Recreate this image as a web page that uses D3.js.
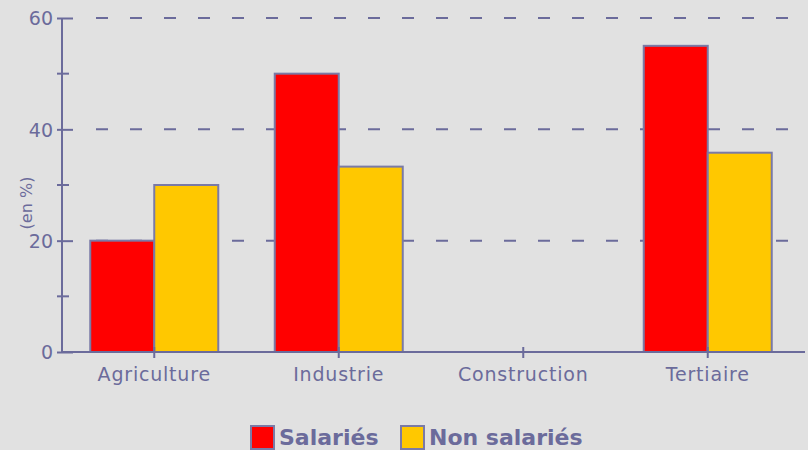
<!DOCTYPE html>
<html><head><meta charset="utf-8">
<script src="https://cdn.jsdelivr.net/npm/d3@7"></script>
<style>
html,body{margin:0;padding:0;background:#e1e1e1;}
svg{display:block;}
text{font-family:"DejaVu Sans",sans-serif;fill:#6b6b9b;}
</style></head><body>
<svg id="c" width="808" height="450"></svg>
<script>
const categories = ["Agriculture","Industrie","Construction","Tertiaire"];
const seriesNames = ["Salariés","Non salariés"];
const salaries = [20, 50, 0, 55];
const nonSalaries = [30, 33.3, 0, 35.8];
const yTicks = [0, 20, 40, 60];
const yMinorTicks = [10, 30, 50];
const colors = ["#ff0000", "#ffc800"];
const axisColor = "#6b6b9b";

(function(){
const svg = d3.select("#c");
const mLeft = 62, mRight = 800, mTop = 18, mBottom = 352;

const x = d3.scaleBand().domain(categories).range([mLeft, mRight]).paddingInner(0).paddingOuter(0);
const bw = 64;
const xs = d3.scaleBand().domain(seriesNames).range([0, bw*2]);
const y = d3.scaleLinear().domain([0, 60]).range([mBottom, mTop]);

// grid lines
svg.append("g").selectAll("line").data(yTicks.filter(d=>d>0)).join("line")
  .attr("x1", mLeft+34).attr("x2", 808)
  .attr("y1", d=>y(d)).attr("y2", d=>y(d))
  .attr("stroke", axisColor).attr("stroke-width", 2)
  .attr("stroke-dasharray", "12 22");

// bars
const data = categories.map((c,i)=>({c, vals:[salaries[i], nonSalaries[i]]}));
const g = svg.append("g");
data.forEach(d=>{
  d.vals.forEach((v,j)=>{
    if (v <= 0) return;
    const x0 = x(d.c) + x.bandwidth()/2 - bw + xs(seriesNames[j]);
    g.append("rect")
      .attr("x", x0).attr("y", y(v))
      .attr("width", xs.bandwidth()).attr("height", y(0)-y(v))
      .attr("fill", colors[j]).attr("stroke", "#7a7aa6").attr("stroke-width", 2);
  });
});

// y axis
const yAxis = d3.axisLeft(y).tickValues(yTicks).tickSize(16).tickFormat(d3.format("d"));
const ya = svg.append("g").attr("transform", `translate(${mLeft},0)`).call(yAxis);
ya.selectAll("line").attr("stroke", axisColor).attr("stroke-width", 2).attr("transform","translate(11,0)");
ya.select(".domain").remove();
ya.selectAll("text").attr("x", -9).attr("dy", "0.36em").style("font-size","19px").attr("fill", axisColor);
svg.append("line").attr("x1", mLeft).attr("x2", mLeft).attr("y1", mTop).attr("y2", mBottom)
  .attr("stroke", axisColor).attr("stroke-width", 2);
svg.append("g").selectAll("line").data(yMinorTicks).join("line")
  .attr("x1", mLeft-5).attr("x2", mLeft+7).attr("y1", d=>y(d)).attr("y2", d=>y(d))
  .attr("stroke", axisColor).attr("stroke-width", 2);

// x axis
const xAxis = d3.axisBottom(x).tickSize(6).tickSizeOuter(0);
const xa = svg.append("g").attr("transform", `translate(0,${mBottom})`).call(xAxis);
xa.select(".domain").remove();
xa.selectAll("line").attr("stroke", axisColor).attr("stroke-width", 2).attr("y1", -5);
xa.selectAll("text").attr("y", 29).attr("dy", 0).style("font-size","19px").style("letter-spacing","0.8px").attr("fill", axisColor);
svg.append("line").attr("x1", mLeft).attr("x2", 805).attr("y1", mBottom).attr("y2", mBottom)
  .attr("stroke", axisColor).attr("stroke-width", 2);

// y label
svg.append("text").attr("transform", "translate(32,203) rotate(-90)")
  .attr("text-anchor","middle").style("font-size","16px").text("(en %)");

// legend
const legX = [251, 401];
seriesNames.forEach((s,i)=>{
  svg.append("rect").attr("x", legX[i]).attr("y", 426).attr("width", 23).attr("height", 23)
    .attr("fill", colors[i]).attr("stroke", "#7a7aa6").attr("stroke-width", 2);
  svg.append("text").attr("x", legX[i]+28).attr("y", 445)
    .style("font-size","22px").style("font-weight","bold").text(s);
});
})();
</script>
</body></html>
